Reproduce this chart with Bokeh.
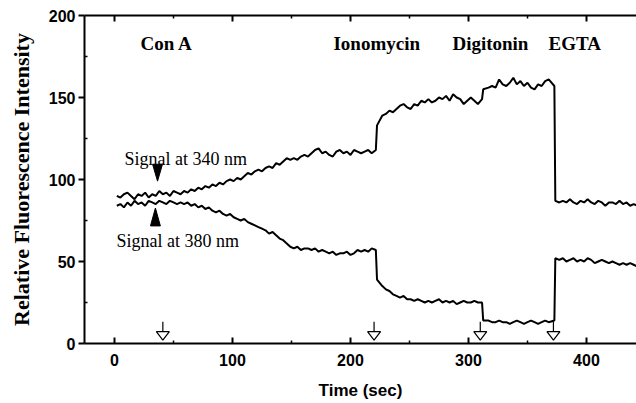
from bokeh.plotting import figure
from bokeh.models import LinearAxis, FixedTicker, Range1d, ColumnDataSource, CustomJSTickFormatter
from bokeh.embed import file_html
from bokeh.resources import INLINE
from bokeh.core.properties import value

# ---------------- data ----------------
time = [
    2, 5, 8, 11, 14, 17, 20, 23, 26, 29,
    32, 35, 38, 41, 44, 47, 50, 53, 56, 59,
    62, 65, 68, 71, 74, 77, 80, 83, 86, 89,
    92, 95, 98, 101, 104, 107, 110, 113, 116, 119,
    122, 125, 128, 131, 134, 137, 140, 143, 146, 149,
    152, 155, 158, 161, 164, 167, 170, 173, 176, 179,
    182, 185, 188, 191, 194, 197, 200, 203, 206, 209,
    212, 215, 218, 221.5, 222.5, 227, 230, 233, 236, 239,
    242, 245, 248, 251, 254, 257, 260, 263, 266, 269,
    272, 275, 278, 281, 284, 287, 290, 293, 296, 299,
    302, 305, 308, 311.5, 312.5, 317, 320, 323, 326, 329,
    332, 335, 338, 341, 344, 347, 350, 353, 356, 359,
    362, 365, 368, 372.8, 373.6, 377, 380, 383, 386, 389,
    392, 395, 398, 401, 404, 407, 410, 413, 416, 419,
    422, 425, 428, 431, 434, 437, 440, 443,
]

sig340 = [
    90, 89, 91, 92, 90, 88, 91, 90, 92, 89,
    91, 90, 93, 91, 92, 90, 93, 92, 91, 93,
    92, 94, 93, 95, 94, 96, 95, 97, 96, 98,
    97, 99, 100, 99, 101, 100, 102, 104, 103, 105,
    106, 105, 107, 108, 107, 110, 109, 111, 113, 112,
    113, 112, 114, 115, 114, 116, 118, 119, 116, 117,
    115, 114, 117, 118, 116, 117, 115, 118, 117, 116,
    117, 118, 116, 118, 133, 139, 140, 142, 141, 143,
    145, 146, 144, 143, 146, 145, 148, 147, 149, 147,
    148, 150, 149, 151, 148, 152, 150, 149, 146, 148,
    150, 148, 146, 149, 155, 156, 157, 156, 161, 158,
    157, 159, 162, 158, 160, 157, 159, 156, 155, 158,
    157, 160, 161, 157, 87, 86, 87, 86, 88, 86,
    85, 87, 86, 88, 86, 85, 87, 86, 84, 86,
    86, 85, 87, 85, 86, 84, 85, 84,
]

sig380 = [
    84, 85, 83, 86, 84, 87, 85, 86, 84, 87,
    86, 85, 87, 86, 85, 87, 86, 85, 86, 85,
    86, 84, 85, 83, 84, 82, 83, 81, 80, 81,
    79, 78, 79, 77, 76, 75, 76, 74, 73, 72,
    71, 70, 69, 67, 68, 66, 64, 63, 61, 59,
    58, 59, 57, 58, 58, 57, 58, 56, 57, 56,
    55, 56, 54, 55, 55, 56, 54, 55, 57, 56,
    57, 56, 58, 57, 39, 35, 33, 32, 30, 29,
    28, 29, 27, 27, 26, 27, 26, 25, 26, 25,
    26, 27, 25, 26, 25, 26, 24, 25, 26, 25,
    25, 26, 25, 25, 14, 14, 13, 13, 14, 13,
    13, 12, 13, 14, 13, 12, 13, 14, 13, 12,
    13, 14, 13, 14, 52, 51, 52, 50, 51, 52,
    50, 51, 50, 52, 51, 49, 50, 51, 50, 49,
    50, 49, 48, 49, 48, 49, 48, 47,
]

events = ["Con A", "Ionomycin", "Digitonin", "EGTA"]
event_label_x = [22, 185.6, 286.4, 367.8]
event_times = [41, 220, 310, 372]

signal_labels = ["Signal at 340 nm", "Signal at 380 nm"]

x_ticks = [0, 100, 200, 300, 400]
x_minor = [50, 150, 250, 350]
y_ticks = [0, 50, 100, 150, 200]
y_minor = [25, 75, 125, 175]

# ---------------- figure ----------------
W, H = 636, 403
p = figure(width=W, height=H, output_backend="svg", toolbar_location=None,
           x_range=Range1d(-25.4, 442.4), y_range=Range1d(0, 200))
p.min_border_left = 84
p.min_border_right = 0
p.min_border_top = 15
p.min_border_bottom = 60
p.outline_line_color = None
p.xgrid.visible = False
p.ygrid.visible = False
p.background_fill_color = "white"
p.border_fill_color = "white"

serif = value("Liberation Serif")

# axes
xt = FixedTicker(ticks=x_ticks, minor_ticks=x_minor)
yt = FixedTicker(ticks=y_ticks, minor_ticks=y_minor)

xa = p.xaxis[0]
xa.ticker = xt
xa.axis_label = "Time (sec)"
xa.axis_label_text_font = "Liberation Sans"
xa.axis_label_text_font_style = "bold"
xa.axis_label_text_font_size = "17px"
xa.axis_label_text_color = "black"
xa.axis_label_standoff = 12
xa.major_label_text_font = "Liberation Sans"
xa.major_label_text_font_style = "bold"
xa.major_label_text_font_size = "16px"
xa.major_label_text_color = "black"
xa.major_label_standoff = 10
xa.major_tick_in = 6
xa.major_tick_out = 0
xa.minor_tick_in = 3
xa.minor_tick_out = 0
xa.axis_line_width = 2
xa.major_tick_line_width = 2
xa.minor_tick_line_width = 1.5

ya = p.yaxis[0]
ya.ticker = yt
ya.axis_label = "Relative Fluorescence Intensity"
ya.axis_label_text_font = "Liberation Serif"
ya.axis_label_text_font_style = "bold"
ya.axis_label_text_font_size = "22px"
ya.axis_label_text_color = "black"
ya.axis_label_standoff = 12
ya.major_label_text_font = "Liberation Sans"
ya.major_label_text_font_style = "bold"
ya.major_label_text_font_size = "16px"
ya.major_label_text_color = "black"
ya.major_label_standoff = 3
ya.major_tick_in = 0
ya.major_tick_out = 6
ya.minor_tick_in = 3
ya.minor_tick_out = 0
ya.axis_line_width = 2
ya.major_tick_line_width = 2
ya.minor_tick_line_width = 1.5

top = LinearAxis(ticker=xt, formatter=CustomJSTickFormatter(code="return ''"),
                 major_tick_in=6, major_tick_out=0,
                 minor_tick_in=3, minor_tick_out=0,
                 axis_line_width=2, major_tick_line_width=2,
                 minor_tick_line_width=1.5, major_label_standoff=0)
p.add_layout(top, "above")

# traces
src = ColumnDataSource(dict(t=time, s340=sig340, s380=sig380))
p.line("t", "s340", source=src, line_color="black", line_width=2)
p.line("t", "s380", source=src, line_color="black", line_width=2)

# event labels
ev = ColumnDataSource(dict(x=event_label_x, y=[183] * len(events), text=events))
p.text("x", "y", text="text", source=ev, text_font=serif, text_font_style="bold",
       text_font_size="19px", text_color="black", text_baseline="alphabetic")

# event arrows (open down-arrow heads with stems)
tri_half = 5.5
tri_top = 7.3
tri_tip = 2.0
stem_top = 13.3
p.segment(x0=event_times, y0=[tri_top] * 4, x1=event_times, y1=[stem_top] * 4,
          line_color="black", line_width=1.2)
p.patches(xs=[[t - tri_half, t + tri_half, t] for t in event_times],
          ys=[[tri_top, tri_top, tri_tip] for _ in event_times],
          fill_color="white", line_color="black", line_width=1.2)

# signal annotations
sl = ColumnDataSource(dict(x=[8.5, 1.7], y=[112.5, 62.6], text=signal_labels))
p.text("x", "y", text="text", source=sl, text_font=serif, text_font_size="18px",
       text_color="black", text_baseline="alphabetic")

# pointer triangles: (tip x, tip y, base y)
ptr_x = [36.5, 34.7]
ptr_tip = [99.0, 82.6]
ptr_base = [109.3, 71.7]
hw = 4.2
p.patches(xs=[[x - hw, x + hw, x] for x in ptr_x],
          ys=[[b, b, t] for t, b in zip(ptr_tip, ptr_base)],
          fill_color="black", line_color="black", line_width=1)

open("out.html", "w").write(file_html(p, INLINE))
